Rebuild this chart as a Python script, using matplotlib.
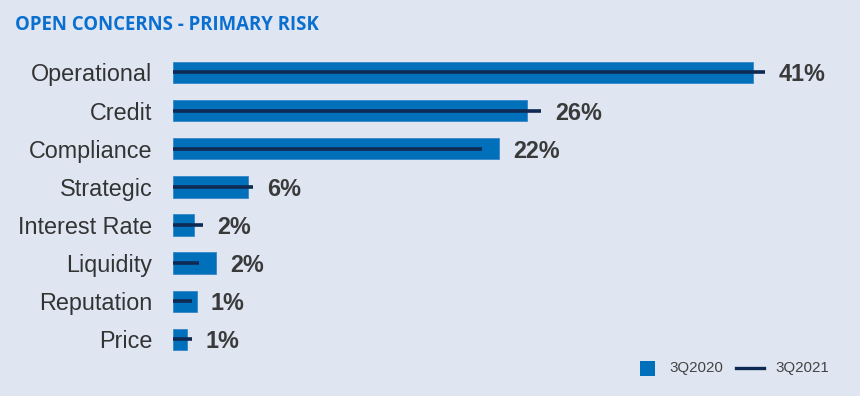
import matplotlib
matplotlib.use("Agg")
import matplotlib.pyplot as plt
from matplotlib.patches import Rectangle
from matplotlib.lines import Line2D

categories = ["Operational", "Credit", "Compliance", "Strategic",
              "Interest Rate", "Liquidity", "Reputation", "Price"]
values_3q2020 = [40.2, 24.5, 22.6, 5.2, 1.45, 3.0, 1.65, 1.0]
values_3q2021 = [41.0, 25.5, 21.4, 5.55, 2.1, 1.8, 1.3, 1.3]
value_labels = ["41%", "26%", "22%", "6%", "2%", "2%", "1%", "1%"]
series_names = ["3Q2020", "3Q2021"]
title = "OPEN CONCERNS - PRIMARY RISK"

BG = "#dfe6f2"
BAR = "#0070bb"
LINE = "#0f2a52"
TXT = "#333333"

W, H = 860, 396
fig = plt.figure(figsize=(W / 100, H / 100), dpi=100, facecolor=BG)

# axes: left at 173px, right at 830px, top 53.4px, bottom 358.4px
left, right, top, bottom = 173, 830, 53.4, 358.4
ax = fig.add_axes([left / W, 1 - bottom / H, (right - left) / W, (bottom - top) / H])
ax.set_facecolor(BG)
px_per_unit = 14.44
ax.set_xlim(0, (right - left) / px_per_unit)
n = len(categories)
ax.set_ylim(n - 0.5, -0.5)

y = list(range(n))
ax.barh(y, values_3q2020, height=0.56, color=BAR, edgecolor="#3a86c8",
        linewidth=0.6, zorder=2)
ax.hlines(y, 0, values_3q2021, colors=LINE, linewidth=2.6, zorder=3)

gap = 14 / px_per_unit
for yi, v1, v2, lab in zip(y, values_3q2020, values_3q2021, value_labels):
    ax.text(max(v1, v2) + gap, yi, lab, ha="left", va="center_baseline",
            fontsize=16.8, fontweight="bold", color="#3a3a3a",
            family="Liberation Sans", clip_on=False)

ax.set_yticks(y)
ax.set_yticklabels(categories, fontsize=16.8, color=TXT, family="Liberation Sans")
ax.tick_params(axis="y", length=0, pad=15)
ax.set_xticks([])
for s in ax.spines.values():
    s.set_visible(False)

fig.text(15 / W, 1 - 25 / H, title, ha="left", va="center",
         fontsize=13.4, fontweight="bold", color="#0b6fd0", family="Open Sans")

# legend
ly = 368
fig.patches.append(Rectangle((640 / W, 1 - 375.7 / H), 15 / W, 15 / H,
                             transform=fig.transFigure, facecolor=BAR,
                             edgecolor="none"))
fig.text(669 / W, 1 - ly / H, series_names[0], ha="left", va="center",
         fontsize=10.9, color="#444444", family="Liberation Sans")
fig.lines.append(Line2D([736 / W, 764 / W], [1 - ly / H, 1 - ly / H],
                        transform=fig.transFigure, color=LINE, linewidth=2.4))
fig.text(775 / W, 1 - ly / H, series_names[1], ha="left", va="center",
         fontsize=10.9, color="#444444", family="Liberation Sans")

fig.savefig("out.png", dpi=100, facecolor=BG)
